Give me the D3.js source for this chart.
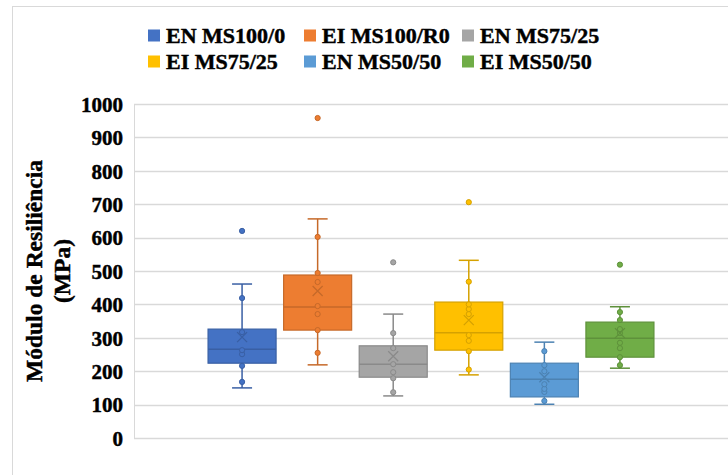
<!DOCTYPE html>
<html>
<head>
<meta charset="utf-8">
<script src="https://cdn.jsdelivr.net/npm/d3@7"></script>
<style>
    body { margin: 0; background: #fff; }
    svg text {
        font-family: "Liberation Serif", "Times New Roman", serif;
        font-weight: bold;
        fill: #000;
        stroke: #000;
        stroke-width: 0.45px;
    }
</style>
</head>
<body>
<svg id="chart" width="728" height="475"></svg>
<script>
'use strict';

// values (MPa)
const seriesNames = ['EN MS100/0', 'EI MS100/R0', 'EN MS75/25', 'EI MS75/25', 'EN MS50/50', 'EI MS50/50'];
const whiskerLow  = [150, 219, 126, 189, 101, 209];
const q1          = [224, 323, 182, 263, 123, 242];
const median      = [266, 392, 221, 315, 176, 299];
const q3          = [326, 488, 276, 407, 224, 347];
const whiskerHigh = [461, 656, 371, 532, 287, 393];
const means       = [302, 440, 245, 353, 182, 314];
const points = [
    [168, 216, 251, 263, 317, 419],
    [255, 323, 371, 395, 467, 494, 602],
    [137, 179, 197, 221, 269, 314],
    [205, 260, 291, 308, 371, 386, 400, 468],
    [111, 138, 147, 161, 200, 218, 260],
    [218, 242, 269, 285, 314, 326, 353, 377]
];
const outliers = [[620], [958], [526], [706], [], [519]];
const yTicks = [0, 100, 200, 300, 400, 500, 600, 700, 800, 900, 1000];

const colors = ['#4472c4', '#ed7d31', '#a5a5a5', '#ffc000', '#5b9bd5', '#70ad47'];
const dark = colors.map(c => d3.color(c).darker(0.5).formatHex());

const svg = d3.select('#chart');
const plot = { left: 134, right: 728, top: 104, bottom: 438 };

const y = d3.scaleLinear().domain([0, 1000]).range([plot.bottom, plot.top]);
const x = d3.scaleBand()
    .domain(seriesNames)
    .range([plot.left, plot.right])
    .paddingInner(0.1)
    .paddingOuter(0.98);

// chart frame
svg.append('rect')
    .attr('x', 12.5).attr('y', 6.5)
    .attr('width', 800).attr('height', 600)
    .attr('fill', 'none')
    .attr('stroke', '#d9d9d9');

// gridlines
svg.append('g')
    .selectAll('line')
    .data(yTicks)
    .join('line')
    .attr('x1', plot.left).attr('x2', plot.right)
    .attr('y1', d => Math.round(y(d)) + 0.5)
    .attr('y2', d => Math.round(y(d)) + 0.5)
    .attr('stroke', '#d9d9d9')
    .attr('stroke-width', 1.3);

svg.append('line')
    .attr('x1', plot.left + 0.5).attr('x2', plot.left + 0.5)
    .attr('y1', plot.top).attr('y2', plot.bottom)
    .attr('stroke', '#d9d9d9');

// y axis
const yAxis = svg.append('g')
    .attr('transform', `translate(${plot.left},0)`)
    .call(d3.axisLeft(y).tickValues(yTicks).tickFormat(d3.format('d')).tickSize(0).tickPadding(11));
yAxis.select('.domain').remove();
yAxis.selectAll('text')
    .attr('font-size', 21)
    .attr('dy', '0.35em');

// axis title
const title = svg.append('text')
    .attr('transform', `translate(0,${(plot.top + plot.bottom) / 2}) rotate(-90)`)
    .attr('text-anchor', 'middle')
    .attr('font-size', 23.5);
title.append('tspan').attr('x', 0).attr('y', 42).text('Módulo de Resiliência');
title.append('tspan').attr('x', 0).attr('y', 70).text('(MPa)');

// boxes
const boxes = svg.append('g')
    .selectAll('g')
    .data(seriesNames.map((name, i) => ({ name, i })))
    .join('g');

const cx = d => x(d.name) + x.bandwidth() / 2;

// whiskers
boxes.append('line')
    .attr('x1', cx).attr('x2', cx)
    .attr('y1', d => y(whiskerHigh[d.i])).attr('y2', d => y(q3[d.i]))
    .attr('stroke', d => dark[d.i]).attr('stroke-width', 1.5);
boxes.append('line')
    .attr('x1', cx).attr('x2', cx)
    .attr('y1', d => y(q1[d.i])).attr('y2', d => y(whiskerLow[d.i]))
    .attr('stroke', d => dark[d.i]).attr('stroke-width', 1.5);
[whiskerHigh, whiskerLow].forEach(arr => {
    boxes.append('line')
        .attr('x1', d => cx(d) - 10).attr('x2', d => cx(d) + 10)
        .attr('y1', d => y(arr[d.i])).attr('y2', d => y(arr[d.i]))
        .attr('stroke', d => dark[d.i]).attr('stroke-width', 1.5);
});

boxes.append('rect')
    .attr('x', d => x(d.name))
    .attr('width', x.bandwidth())
    .attr('y', d => y(q3[d.i]))
    .attr('height', d => y(q1[d.i]) - y(q3[d.i]))
    .attr('fill', d => colors[d.i])
    .attr('stroke', d => dark[d.i])
    .attr('stroke-width', 1.2);

boxes.append('line')
    .attr('x1', d => x(d.name)).attr('x2', d => x(d.name) + x.bandwidth())
    .attr('y1', d => y(median[d.i])).attr('y2', d => y(median[d.i]))
    .attr('stroke', d => dark[d.i]).attr('stroke-width', 1.5);

// data points and outliers
boxes.selectAll('circle')
    .data(d => points[d.i].concat(outliers[d.i]).map(v => ({ v, i: d.i, name: d.name })))
    .join('circle')
    .attr('cx', cx)
    .attr('cy', d => y(d.v))
    .attr('r', 2.6)
    .attr('fill', d => colors[d.i])
    .attr('stroke', d => dark[d.i])
    .attr('stroke-width', 1);

// mean markers
boxes.append('path')
    .attr('d', d => {
        const px = cx(d), py = y(means[d.i]), s = 5;
        return `M${px - s},${py - s}L${px + s},${py + s}M${px - s},${py + s}L${px + s},${py - s}`;
    })
    .attr('stroke', d => dark[d.i])
    .attr('stroke-width', 1.3)
    .attr('fill', 'none');

// legend
const legendX = [148, 304, 462];
const legendY = [35.5, 61.5];
const legend = svg.append('g')
    .selectAll('g')
    .data(seriesNames.map((name, i) => ({ name, i })))
    .join('g')
    .attr('transform', d => `translate(${legendX[d.i % 3]},${legendY[Math.floor(d.i / 3)]})`);
legend.append('rect')
    .attr('x', 0).attr('y', -6)
    .attr('width', 12).attr('height', 12)
    .attr('fill', d => colors[d.i]);
legend.append('text')
    .attr('x', 18)
    .attr('dy', '0.35em')
    .attr('font-size', 22)
    .text(d => d.name);
</script>
</body>
</html>
